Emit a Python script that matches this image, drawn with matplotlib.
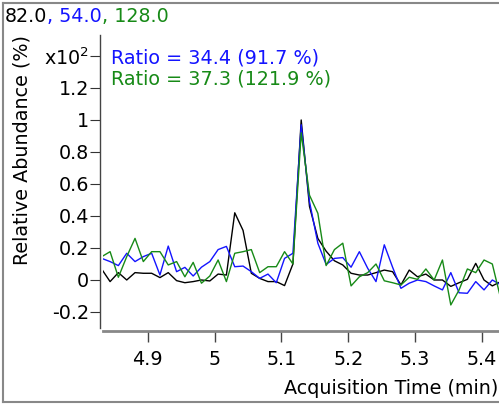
import matplotlib
matplotlib.use("Agg")
import matplotlib.pyplot as plt
from matplotlib.lines import Line2D

plt.rcParams["font.family"] = ["DejaVu Sans"]
plt.rcParams["axes.unicode_minus"] = False

FS = 13.8

# acquisition times (min), one scan every ~0.0124 min
time_min = [4.8312, 4.8436, 4.8560, 4.8685, 4.8809, 4.8933, 4.9058, 4.9182,
            4.9306, 4.9431, 4.9555, 4.9679, 4.9803, 4.9928, 5.0052, 5.0176,
            5.0301, 5.0425, 5.0549, 5.0674, 5.0798, 5.0922, 5.1046, 5.1171,
            5.1295, 5.1419, 5.1544, 5.1668, 5.1792, 5.1917, 5.2041, 5.2165,
            5.2290, 5.2414, 5.2538, 5.2662, 5.2787, 5.2911, 5.3035, 5.3160,
            5.3284, 5.3408, 5.3533, 5.3657, 5.3781, 5.3906, 5.4030, 5.4154,
            5.4279]

# relative abundance (x10^2 %)
ion_82 = [0.067, -0.01, 0.046, 0.0, 0.046, 0.042, 0.042, 0.015,
          0.046, -0.004, -0.017, -0.01, 0.0, -0.006, 0.037, 0.031,
          0.42, 0.31, 0.042, 0.01, -0.01, -0.01, -0.035, 0.10,
          1.0, 0.46, 0.26, 0.18, 0.12, 0.094, 0.042, 0.031,
          0.031, 0.046, 0.062, 0.052, -0.031, 0.062, 0.02, 0.037,
          0.0, 0.0, -0.04, -0.017, 0.004, 0.104, 0.0, -0.037,
          -0.01]
ion_54 = [0.135, 0.115, 0.09, 0.167, 0.115, 0.146, 0.167, 0.031,
          0.212, 0.052, 0.079, 0.025, 0.08, 0.115, 0.19, 0.21,
          0.083, 0.087, 0.052, 0.01, 0.037, -0.017, 0.135, 0.167,
          0.97, 0.49, 0.23, 0.097, 0.135, 0.14, 0.08, 0.177,
          0.073, -0.01, 0.22, 0.08, -0.052, -0.02, 0.0, -0.01,
          -0.037, -0.062, 0.046, -0.08, -0.083, -0.01, -0.062, 0.0,
          -0.03]
ion_128 = [0.146, 0.177, 0.017, 0.146, 0.26, 0.115, 0.177, 0.177,
           0.094, 0.115, 0.02, 0.11, -0.02, 0.025, 0.125, -0.01,
           0.167, 0.177, 0.19, 0.046, 0.083, 0.083, 0.177, 0.10,
           0.92, 0.53, 0.417, 0.09, 0.19, 0.23, -0.037, 0.02,
           0.046, 0.10, -0.005, -0.017, -0.031, 0.017, 0.004, 0.069,
           0.0, 0.125, -0.156, -0.062, 0.069, 0.046, 0.125, 0.10,
           -0.115]

ytick_vals = [-0.2, 0, 0.2, 0.4, 0.6, 0.8, 1, 1.2, 1.4]
ytick_text = ["-0.2", "0", "0.2", "0.4", "0.6", "0.8", "1", "1.2", "x10$^2$"]
xtick_vals = [4.9, 5.0, 5.1, 5.2, 5.3, 5.4]
xtick_text = ["4.9", "5", "5.1", "5.2", "5.3", "5.4"]

BLUE = "#1414ff"
GREEN = "#178a17"

W, H = 499, 404
fig = plt.figure(figsize=(W / 100, H / 100), dpi=100)
ax = fig.add_axes([103 / W, 1 - 328 / H, 396 / W, 293 / H])

ax.plot(time_min, ion_82, color="black", lw=1.0)
ax.plot(time_min, ion_54, color=BLUE, lw=1.0)
ax.plot(time_min, ion_128, color=GREEN, lw=1.0)

ax.set_xlim(4.833, 5.4254)
ax.set_ylim(-0.3, 1.531)

for s in ["top", "right"]:
    ax.spines[s].set_visible(False)
ax.spines["left"].set_position(("outward", 2.2))
ax.spines["left"].set_color("#444444")
ax.spines["left"].set_linewidth(1.0)
ax.spines["bottom"].set_position(("outward", 2.5))
ax.spines["bottom"].set_color("#888888")
ax.spines["bottom"].set_linewidth(2.0)

ax.set_yticks(ytick_vals, ytick_text)
ax.set_xticks(xtick_vals, xtick_text)
ax.tick_params(axis="y", length=7, width=0.8, color="#333333", pad=1, labelsize=FS)
ax.tick_params(axis="x", length=8, width=1.0, color="#444444", pad=5, labelsize=FS)

# ratio annotations
fig.text(111 / W, 1 - 58 / H, "Ratio = 34.4 (91.7 %)", color=BLUE, fontsize=FS, va="center")
fig.text(111 / W, 1 - 79 / H, "Ratio = 37.3 (121.9 %)", color=GREEN, fontsize=FS, va="center")

fig.text(22 / W, 1 - 150 / H, "Relative Abundance (%)", rotation=90,
         fontsize=FS, ha="center", va="center")
fig.text(498 / W, 1 - 389 / H, "Acquisition Time (min)", fontsize=FS,
         ha="right", va="center")

# title pieces in their own colours
renderer = fig.canvas.get_renderer()
x = 5 / W
for txt, col in [("82.0", "black"), (", 54.0", BLUE), (", 128.0", GREEN)]:
    t = fig.text(x, 1 - 16 / H, txt, color=col, fontsize=FS, va="center")
    bb = t.get_window_extent(renderer)
    x = bb.x1 / W

# panel frame
fig.add_artist(Line2D([3 / W, 1], [1 - 3 / H, 1 - 3 / H], color="#888888", lw=1.5))
fig.add_artist(Line2D([3 / W, 3 / W], [1 - 3 / H, 1 - 401.5 / H], color="#888888", lw=1.5))
fig.add_artist(Line2D([3 / W, 1], [1 - 401.5 / H, 1 - 401.5 / H], color="#888888", lw=1.5))

fig.savefig("out.png", dpi=100)
